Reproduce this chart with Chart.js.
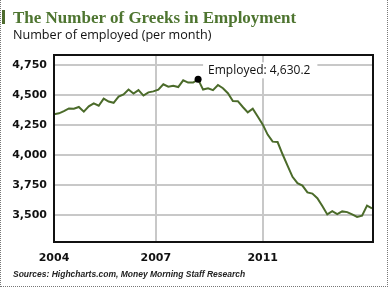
<!DOCTYPE html>
<html>
<head>
<meta charset="utf-8">
<script src="https://cdn.jsdelivr.net/npm/chart.js@4.4.1/dist/chart.umd.min.js"></script>
<style>
  html, body { margin: 0; padding: 0; background: #fff; }
  #wrap { position: relative; width: 390px; height: 293px; overflow: hidden; }
  #frame { position: absolute; left: 0; top: 0; width: 386px; height: 286px;
           border: 1px dotted #777; border-top: none; }
  #bar { position: absolute; left: 2px; top: 10px; width: 3px; height: 14px; background: #4e6b2e; }
  #title { position: absolute; left: 13px; top: 7.5px; line-height: 17px; white-space: nowrap;
           font: bold 17px "Liberation Serif", serif; color: #4e7530; }
  #subtitle { position: absolute; left: 13px; top: 26px; line-height: 15px; white-space: nowrap;
              font: 12.6px "Open Sans", sans-serif; color: #111; }
  #source { position: absolute; left: 13px; top: 269px; line-height: 10px; white-space: nowrap;
            font: italic bold 8.5px "Liberation Sans", sans-serif; color: #222; }
  canvas { position: absolute; left: 0; top: 0; }
</style>
</head>
<body>
<div id="wrap">
  <canvas id="chart" width="390" height="293"></canvas>
  <div id="frame"></div>
  <div id="bar"></div>
  <div id="title">The Number of Greeks in Employment</div>
  <div id="subtitle">Number of employed (per month)</div>
  <div id="source">Sources: Highcharts.com, Money Morning Staff Research</div>
</div>
<script>
// employed persons, thousands
const employed = [4339, 4347, 4365, 4388, 4386, 4400, 4361, 4405, 4430, 4410,
  4470, 4445, 4435, 4486, 4505, 4545, 4512, 4540, 4495, 4522,
  4530, 4545, 4589, 4569, 4577, 4566, 4622, 4603, 4603, 4630.2,
  4545, 4556, 4540, 4583, 4556, 4515, 4450, 4448, 4400, 4355,
  4385, 4320, 4255, 4170, 4111, 4108, 4006, 3912, 3818, 3765,
  3745, 3688, 3678, 3640, 3575, 3505, 3532, 3507, 3530, 3524,
  3505, 3484, 3495, 3578, 3556];

const xTickLabels = ['2004', '2007', '2011'];
const xTickAt = [0, 20.5, 42];
const yTicks = [3500, 3750, 4000, 4250, 4500, 4750];

const peakIndex = 29;
const peakText = 'Employed: 4,630.2';

const green = '#4b6b2a';
const gridColor = '#c8c8c8';

// frame around the plot + the peak label
const extras = {
    id: 'extras',
    afterDatasetsDraw(chart) {
        const { ctx, chartArea: a, scales } = chart;
        ctx.save();
        ctx.strokeStyle = '#111';
        ctx.lineWidth = 2;
        ctx.strokeRect(a.left, a.top, a.right - a.left, a.bottom - a.top);

        const px = scales.x.getPixelForValue(peakIndex);
        const py = scales.y.getPixelForValue(employed[peakIndex]);
        ctx.font = '12px "Open Sans", sans-serif';
        const w = ctx.measureText(peakText).width;
        const tx = px + 10, ty = py - 9;
        ctx.fillStyle = '#fff';
        ctx.fillRect(tx - 5, ty - 8, w + 12, 16);
        ctx.fillStyle = '#111';
        ctx.textBaseline = 'middle';
        ctx.fillText(peakText, tx, ty);
        ctx.restore();
    }
};

new Chart(document.getElementById('chart'), {
    type: 'line',
    data: {
        datasets: [{
            data: employed.map((v, i) => ({ x: i, y: v })),
            borderColor: green,
            borderWidth: 2,
            tension: 0,
            pointRadius: c => c.dataIndex === peakIndex ? 3.5 : 0,
            pointBackgroundColor: '#000',
            pointBorderWidth: 0
        }]
    },
    options: {
        responsive: false,
        animation: false,
        devicePixelRatio: 1,
        layout: { padding: { top: 55, right: 17, left: 0, bottom: 0 } },
        plugins: { legend: { display: false }, tooltip: { enabled: false } },
        scales: {
            x: {
                type: 'linear',
                min: 0,
                max: 64.2,
                afterBuildTicks: s => { s.ticks = xTickAt.map(v => ({ value: v })); },
                afterFit: s => { s.height = 51; },
                grid: {
                    drawTicks: false,
                    lineWidth: 2,
                    color: c => c.index === 0 ? 'transparent' : gridColor
                },
                border: { display: false },
                ticks: {
                    padding: 10,
                    autoSkip: false,
                    maxRotation: 0,
                    color: '#111',
                    font: { family: 'DejaVu Sans', weight: 'bold', size: 11 },
                    callback: (v, i) => xTickLabels[i]
                }
            },
            y: {
                min: 3275,
                max: 4833,
                afterBuildTicks: s => { s.ticks = yTicks.map(v => ({ value: v })); },
                afterFit: s => { s.width = 54; },
                grid: { drawTicks: false, lineWidth: 2, color: gridColor },
                border: { display: false },
                ticks: {
                    padding: 7,
                    color: '#111',
                    font: { family: 'DejaVu Sans', weight: 'bold', size: 11 },
                    callback: v => v.toLocaleString('en-US')
                }
            }
        }
    },
    plugins: [extras]
});
</script>
</body>
</html>
